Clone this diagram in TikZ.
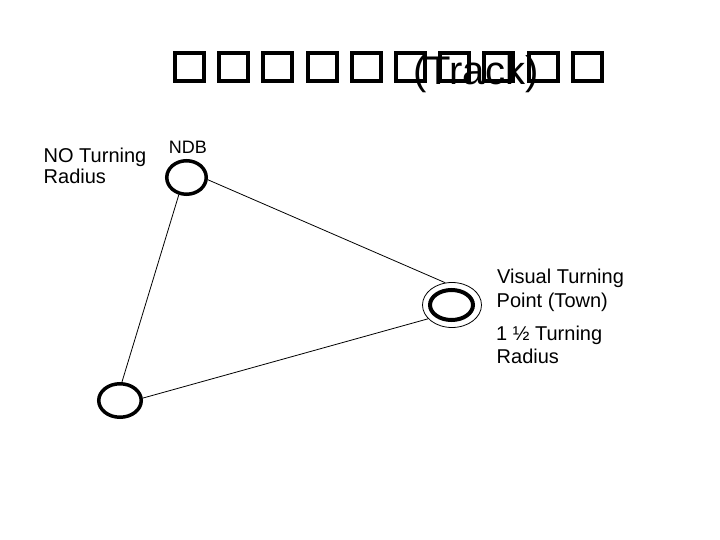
\documentclass[tikz,border=0pt]{standalone}
\usepackage{fontspec}
\setmainfont{Liberation Sans}
\usetikzlibrary{shapes.geometric}
\begin{document}
\begin{tikzpicture}[x=1pt,y=-1pt,
  tofu/.style={draw,rectangle,line width=4pt,minimum width=29pt,minimum height=28pt,inner sep=0pt},
  lbl/.style={anchor=base west,inner sep=0pt,font=\fontsize{20}{24}\selectfont},
  fix/.style={draw,ellipse,inner sep=0pt,line width=3.5pt},
  ring/.style={draw,ellipse,inner sep=0pt,line width=0.8pt},
  leg/.style={line width=0.8pt}]
\useasboundingbox (0,0) rectangle (720,540);
% title: missing-glyph boxes with (Track)
\foreach \i in {0,...,9}{
  \node[tofu] (b\i) at ({189.5+44.2*\i},67) {};
}
\node[anchor=base west,inner sep=0pt,font=\fontsize{40}{44}\selectfont] (title) at (413,85) {(Track)};
% labels
\node[lbl] (noturn) at (43.5,163) {NO Turning};
\node[lbl] (noradius) at (43.5,184) {Radius};
\node[anchor=base west,inner sep=0pt,font=\fontsize{18}{21}\selectfont] (ndblbl) at (168.6,154) {NDB};
\node[lbl] (vis) at (497,283) {Visual Turning};
\node[lbl] (point) at (496.5,307) {Point (Town)};
\node[lbl] (half) at (496,340) {1 ½ Turning};
\node[lbl] (halfradius) at (496.5,363) {Radius};
% fixes
\node[fix,minimum width=39.5pt,minimum height=33.5pt] (ndb) at (186.5,177.5) {};
\node[fix,minimum width=42.5pt,minimum height=33.5pt] (bl) at (120,400.5) {};
\node[fix,line width=4pt,minimum width=43pt,minimum height=30pt] (vtp) at (451.5,305) {};
\node[ring,minimum width=59pt,minimum height=45pt] (vtpring) at (452,305) {};
% legs
\draw[leg] (ndb.-6.6) -- (vtpring.107);
\draw[leg] (ndb.246.5) -- (bl.84);
\draw[leg] (bl.6) -- (vtpring.210.6);
\end{tikzpicture}
\end{document}
